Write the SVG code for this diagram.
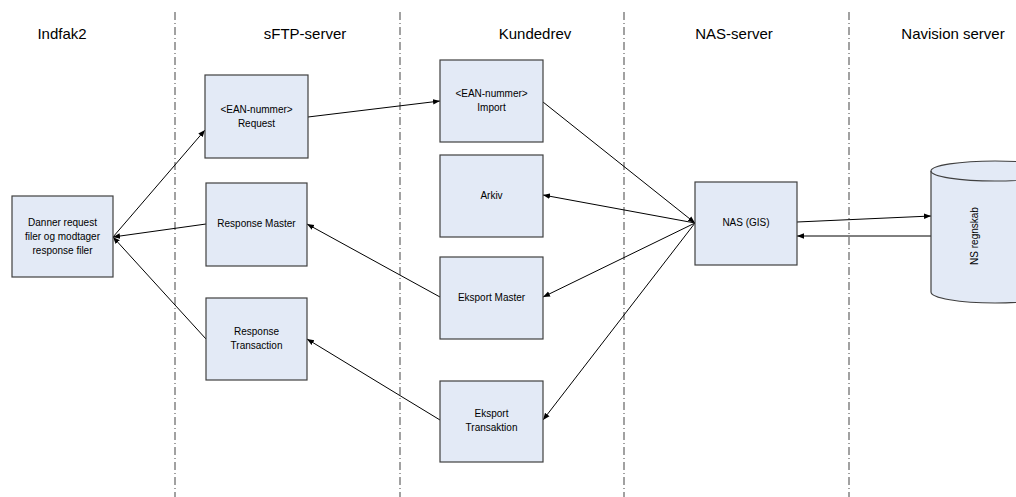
<svg xmlns="http://www.w3.org/2000/svg" width="1016" height="497" viewBox="0 0 1016 497">
<style>
.bg{fill:#ffffff}
.lane{stroke:#7a7a7a;stroke-width:1.4;stroke-dasharray:8 3 1 3;fill:none}
.hdr{font-family:"Liberation Sans",Arial,sans-serif;font-size:15px;fill:#000;text-anchor:middle}
.box{fill:#e3eaf6;stroke:#404040;stroke-width:1.2}
.lbl{font-family:"Liberation Sans",Arial,sans-serif;font-size:10px;fill:#000;text-anchor:middle;dominant-baseline:middle}
.con{stroke:#000;stroke-width:1;fill:none;marker-end:url(#ah)}
</style>
<defs>
<marker id="ah" viewBox="0 0 10 10" refX="10" refY="5" markerWidth="7" markerHeight="7" markerUnits="userSpaceOnUse" orient="auto">
<path d="M0,1 L10,5 L0,9 Z" fill="#000"/>
</marker>
</defs>
<rect class="bg" x="0" y="0" width="1016" height="497"/>
<g id="lanes">
<line class="lane" x1="175" y1="12" x2="175" y2="497"/>
<line class="lane" x1="400" y1="12" x2="400" y2="497"/>
<line class="lane" x1="624" y1="12" x2="624" y2="497"/>
<line class="lane" x1="849" y1="12" x2="849" y2="497"/>
</g>
<g id="headers">
<text class="hdr" x="62" y="39">Indfak2</text>
<text class="hdr" x="305" y="39">sFTP-server</text>
<text class="hdr" x="535" y="39">Kundedrev</text>
<text class="hdr" x="734" y="39">NAS-server</text>
<text class="hdr" x="953" y="39">Navision server</text>
</g>
<g id="connectors">
<line class="con" x1="113" y1="237" x2="205" y2="130"/>
<line class="con" x1="308" y1="117" x2="440" y2="101"/>
<line class="con" x1="543" y1="102" x2="695" y2="223"/>
<line class="con" x1="695" y1="223" x2="543" y2="195"/>
<line class="con" x1="695" y1="223" x2="543" y2="297"/>
<line class="con" x1="695" y1="223" x2="543" y2="420"/>
<line class="con" x1="206" y1="224" x2="113" y2="237"/>
<line class="con" x1="206" y1="339" x2="113" y2="237"/>
<line class="con" x1="440" y1="297" x2="307" y2="224"/>
<line class="con" x1="440" y1="420" x2="307" y2="339"/>
<line class="con" x1="797" y1="222" x2="931" y2="216"/>
<line class="con" x1="931" y1="236" x2="797" y2="236"/>
</g>
<g id="danner">
<rect class="box" x="12" y="196" width="101" height="81"/>
<text class="lbl" x="62.5" y="223">Danner request</text>
<text class="lbl" x="62.5" y="237">filer og modtager</text>
<text class="lbl" x="62.5" y="251">response filer</text>
</g>
<g id="request">
<rect class="box" x="205" y="75" width="103" height="83"/>
<text class="lbl" x="256.5" y="110">&lt;EAN-nummer&gt;</text>
<text class="lbl" x="256.5" y="124">Request</text>
</g>
<g id="response-master">
<rect class="box" x="206" y="183" width="101" height="83"/>
<text class="lbl" x="256.5" y="224">Response Master</text>
</g>
<g id="response-transaction">
<rect class="box" x="206" y="298" width="101" height="82"/>
<text class="lbl" x="256.5" y="332">Response</text>
<text class="lbl" x="256.5" y="346">Transaction</text>
</g>
<g id="import">
<rect class="box" x="440" y="60" width="103" height="82"/>
<text class="lbl" x="491.5" y="94">&lt;EAN-nummer&gt;</text>
<text class="lbl" x="491.5" y="108">Import</text>
</g>
<g id="arkiv">
<rect class="box" x="440" y="155" width="103" height="82"/>
<text class="lbl" x="491.5" y="196">Arkiv</text>
</g>
<g id="eksport-master">
<rect class="box" x="440" y="257" width="103" height="82"/>
<text class="lbl" x="491.5" y="298">Eksport Master</text>
</g>
<g id="eksport-transaktion">
<rect class="box" x="440" y="381" width="103" height="81"/>
<text class="lbl" x="491.5" y="414">Eksport</text>
<text class="lbl" x="491.5" y="428">Transaktion</text>
</g>
<g id="nas">
<rect class="box" x="695" y="182" width="102" height="83"/>
<text class="lbl" x="746" y="223">NAS (GIS)</text>
</g>
<g id="ns-regnskab">
<path class="box" d="M931,171 A64,10 0 0 1 1059,171 L1059,292 A64,11 0 0 1 931,292 Z"/>
<path d="M931,171 A64,10 0 0 0 1059,171" fill="none" stroke="#404040" stroke-width="1.2"/>
<text class="lbl" transform="translate(975,236) rotate(-90)" x="0" y="0">NS regnskab</text>
</g>
</svg>
